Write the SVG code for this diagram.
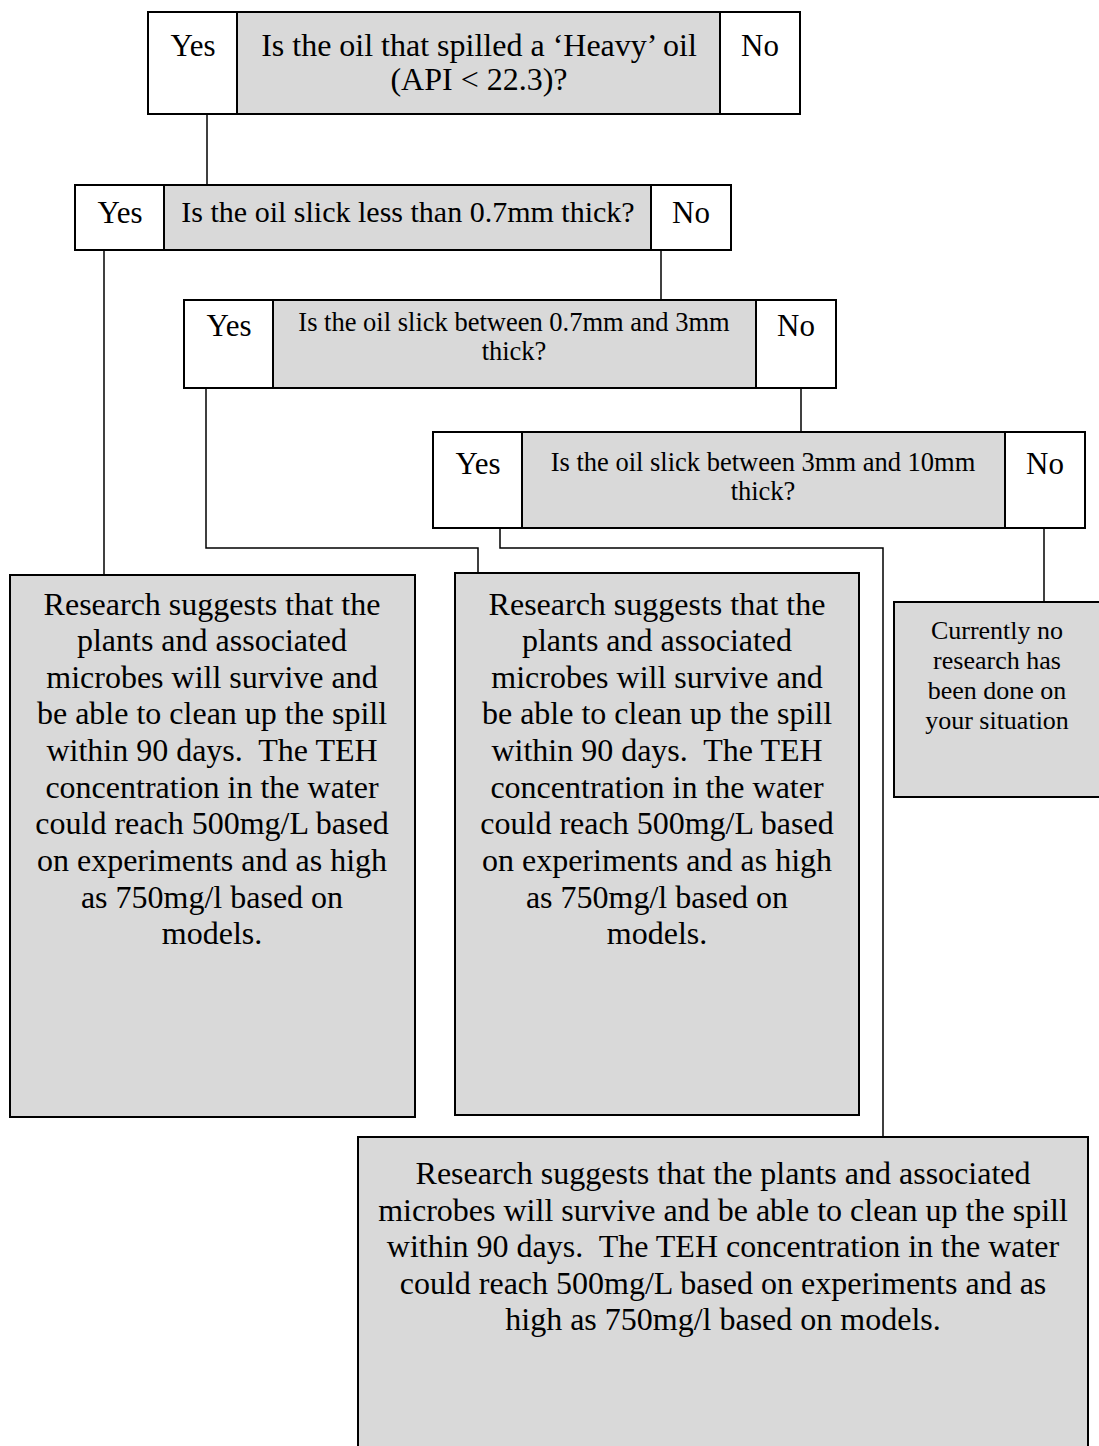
<svg xmlns="http://www.w3.org/2000/svg" width="1099" height="1446" viewBox="0 0 1099 1446">
<style>
.w{fill:#ffffff;stroke:#000;stroke-width:2}
.g{fill:#d9d9d9;stroke:#000;stroke-width:2}
text{font-family:"Liberation Serif","Times New Roman",serif;fill:#000;text-anchor:middle}
.l{font-size:31px}
.t{font-size:32px}
.m{font-size:30px}
.q{font-size:26.5px}
.r{font-size:32px}
.s{font-size:26px}
.c{fill:none;stroke:#000;stroke-width:1.5}
</style>
<rect width="1099" height="1446" fill="#fff"/>
<g id="connectors">
<path class="c" d="M207 114V185"/>
<path class="c" d="M104 250V575"/>
<path class="c" d="M661 250V300"/>
<path class="c" d="M206 388V548H478V573"/>
<path class="c" d="M801 388V432"/>
<path class="c" d="M500 528V548H883V1137"/>
<path class="c" d="M1044 528V602"/>
</g>
<g id="q1">
<rect class="w" x="148" y="12" width="89" height="102"/>
<rect class="g" x="237" y="12" width="483" height="102"/>
<rect class="w" x="720" y="12" width="80" height="102"/>
<text class="l" x="193" y="56">Yes</text>
<text class="t" x="479" y="56">Is the oil that spilled a ‘Heavy’ oil</text>
<text class="t" x="479" y="90">(API &lt; 22.3)?</text>
<text class="l" x="760" y="56">No</text>
</g>
<g id="q2">
<rect class="w" x="75" y="185" width="89" height="65"/>
<rect class="g" x="164" y="185" width="487" height="65"/>
<rect class="w" x="651" y="185" width="80" height="65"/>
<text class="l" x="120" y="223">Yes</text>
<text class="m" x="408" y="222">Is the oil slick less than 0.7mm thick?</text>
<text class="l" x="691" y="223">No</text>
</g>
<g id="q3">
<rect class="w" x="184" y="300" width="89" height="88"/>
<rect class="g" x="273" y="300" width="483" height="88"/>
<rect class="w" x="756" y="300" width="80" height="88"/>
<text class="l" x="229" y="336">Yes</text>
<text class="q" x="514" y="331">Is the oil slick between 0.7mm and 3mm</text>
<text class="q" x="514" y="360">thick?</text>
<text class="l" x="796" y="336">No</text>
</g>
<g id="q4">
<rect class="w" x="433" y="432" width="89" height="96"/>
<rect class="g" x="522" y="432" width="483" height="96"/>
<rect class="w" x="1005" y="432" width="80" height="96"/>
<text class="l" x="478" y="474">Yes</text>
<text class="q" x="763" y="471">Is the oil slick between 3mm and 10mm</text>
<text class="q" x="763" y="500">thick?</text>
<text class="l" x="1045" y="474">No</text>
</g>
<g id="r1">
<rect class="g" x="10" y="575" width="405" height="542"/>
<text class="r" x="212" y="615">Research suggests that the</text>
<text class="r" x="212" y="651">plants and associated</text>
<text class="r" x="212" y="688">microbes will survive and</text>
<text class="r" x="212" y="724">be able to clean up the spill</text>
<text class="r" x="212" y="761" xml:space="preserve">within 90 days.  The TEH</text>
<text class="r" x="212" y="798">concentration in the water</text>
<text class="r" x="212" y="834">could reach 500mg/L based</text>
<text class="r" x="212" y="871">on experiments and as high</text>
<text class="r" x="212" y="908">as 750mg/l based on</text>
<text class="r" x="212" y="944">models.</text>
</g>
<g id="r2">
<rect class="g" x="455" y="573" width="404" height="542"/>
<text class="r" x="657" y="615">Research suggests that the</text>
<text class="r" x="657" y="651">plants and associated</text>
<text class="r" x="657" y="688">microbes will survive and</text>
<text class="r" x="657" y="724">be able to clean up the spill</text>
<text class="r" x="657" y="761" xml:space="preserve">within 90 days.  The TEH</text>
<text class="r" x="657" y="798">concentration in the water</text>
<text class="r" x="657" y="834">could reach 500mg/L based</text>
<text class="r" x="657" y="871">on experiments and as high</text>
<text class="r" x="657" y="908">as 750mg/l based on</text>
<text class="r" x="657" y="944">models.</text>
</g>
<g id="r3">
<rect class="g" x="894" y="602" width="210" height="195"/>
<text class="s" x="997" y="639">Currently no</text>
<text class="s" x="997" y="669">research has</text>
<text class="s" x="997" y="699">been done on</text>
<text class="s" x="997" y="729">your situation</text>
</g>
<g id="r4">
<rect class="g" x="358" y="1137" width="730" height="320"/>
<text class="r" x="723" y="1184">Research suggests that the plants and associated</text>
<text class="r" x="723" y="1221">microbes will survive and be able to clean up the spill</text>
<text class="r" x="723" y="1257" xml:space="preserve">within 90 days.  The TEH concentration in the water</text>
<text class="r" x="723" y="1294">could reach 500mg/L based on experiments and as</text>
<text class="r" x="723" y="1330">high as 750mg/l based on models.</text>
</g>
</svg>
